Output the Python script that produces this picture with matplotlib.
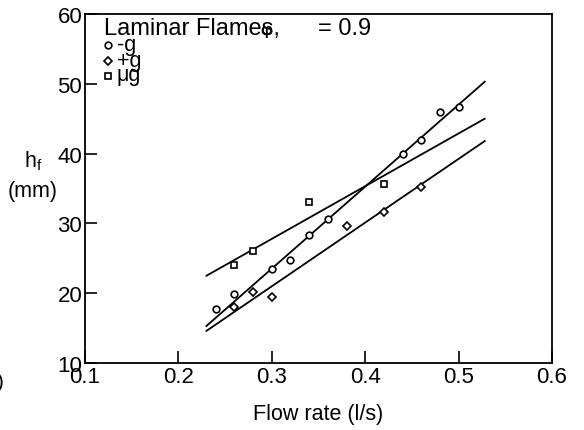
import matplotlib
matplotlib.use("Agg")
import matplotlib.pyplot as plt

plt.rcParams['font.family'] = ['Liberation Sans', 'DejaVu Sans']

# -g (circulos)
minus_g_x = [0.24, 0.26, 0.30, 0.32, 0.34, 0.36, 0.44, 0.46, 0.48, 0.50]
minus_g_y = [17.7, 19.9, 23.5, 24.8, 28.3, 30.6, 39.9, 42.0, 45.9, 46.7]
# +g (diamantes)
plus_g_x = [0.26, 0.28, 0.30, 0.38, 0.42, 0.46]
plus_g_y = [18.0, 20.2, 19.5, 29.6, 31.7, 35.2]
# micro g (cuadrados)
micro_g_x = [0.26, 0.28, 0.34, 0.42]
micro_g_y = [24.0, 26.0, 33.0, 35.7]

# rectas de ajuste
fit_x = [0.23, 0.528]
fit_minus_g = [15.3, 50.3]
fit_plus_g = [14.6, 41.8]
fit_micro_g = [22.5, 45.0]

x_ticks = [0.1, 0.2, 0.3, 0.4, 0.5, 0.6]
y_ticks = [10, 20, 30, 40, 50, 60]

fig = plt.figure(figsize=(5.84, 4.31), dpi=100)
ax = fig.add_axes([85/584, 1 - 364/431, 467/584, 349/431])

lw = 1.3
ax.plot(fit_x, fit_minus_g, color='black', lw=lw)
ax.plot(fit_x, fit_plus_g, color='black', lw=lw)
ax.plot(fit_x, fit_micro_g, color='black', lw=lw)

sizes = {'o': 4.8, 'D': 4.0, 's': 4.3}
mk = dict(linestyle='none', markerfacecolor='white', markeredgecolor='black',
          markeredgewidth=1.2, zorder=3)
ax.plot(minus_g_x, minus_g_y, marker='o', markersize=sizes['o'], **mk)
ax.plot(plus_g_x, plus_g_y, marker='D', markersize=sizes['D'], **mk)
ax.plot(micro_g_x, micro_g_y, marker='s', markersize=sizes['s'], **mk)

ax.set_xlim(0.1, 0.6)
ax.set_ylim(10, 60)
ax.set_xticks(x_ticks)
ax.set_yticks(y_ticks)
ax.set_xticklabels([str(t) for t in x_ticks])
ax.set_yticklabels([str(t) for t in y_ticks])
ax.tick_params(direction='in', length=8.5, width=1.2, labelsize=16, pad=2,
               top=False, right=False)
for s in ax.spines.values():
    s.set_linewidth(1.3)

ax.set_xlabel('Flow rate (l/s)', fontsize=15.5, labelpad=12)

# etiqueta del eje y, horizontal a la izquierda
fig.text(33/584, 1 - 161/431, r'h$_\mathregular{f}$', fontsize=15.5, ha='center', va='center')
fig.text(33/584, 1 - 192/431, '(mm)', fontsize=15.5, ha='center', va='center')

# leyenda escrita a mano; la phi queda encima de la "s" como en el original
fs_title = 17
fig.text(104/584, 1 - 29/431, 'Laminar Flames,', fontsize=fs_title, ha='left', va='center')
tmp = fig.text(104/584, 1 - 29/431, 'Laminar Flame', fontsize=fs_title, ha='left',
               va='center', alpha=0)
fig.canvas.draw()
right_px = tmp.get_window_extent().x1
fig.text((right_px + 4.5) / 584, 1 - 31/431, 'φ', fontsize=12, fontweight='bold',
         ha='center', va='center')
fig.text(318/584, 1 - 29/431, '= 0.9', fontsize=fs_title, ha='left', va='center')

leg_rows = [('o', '-g', 46), ('D', '+g', 62), ('s', 'μg', 77)]
for m, lab, ypx in leg_rows:
    fig.lines.append(plt.Line2D([108/584], [1 - ypx/431], transform=fig.transFigure,
                                marker=m, markersize=sizes[m], markerfacecolor='white',
                                markeredgecolor='black', markeredgewidth=1.2,
                                linestyle='none'))
    fig.text(117/584, 1 - (ypx - 1)/431, lab, fontsize=15.5, ha='left', va='center')

fig.text(-3/584, 1 - 383/431, ')', fontsize=15, ha='left', va='center')

fig.savefig('out.png', dpi=100)
